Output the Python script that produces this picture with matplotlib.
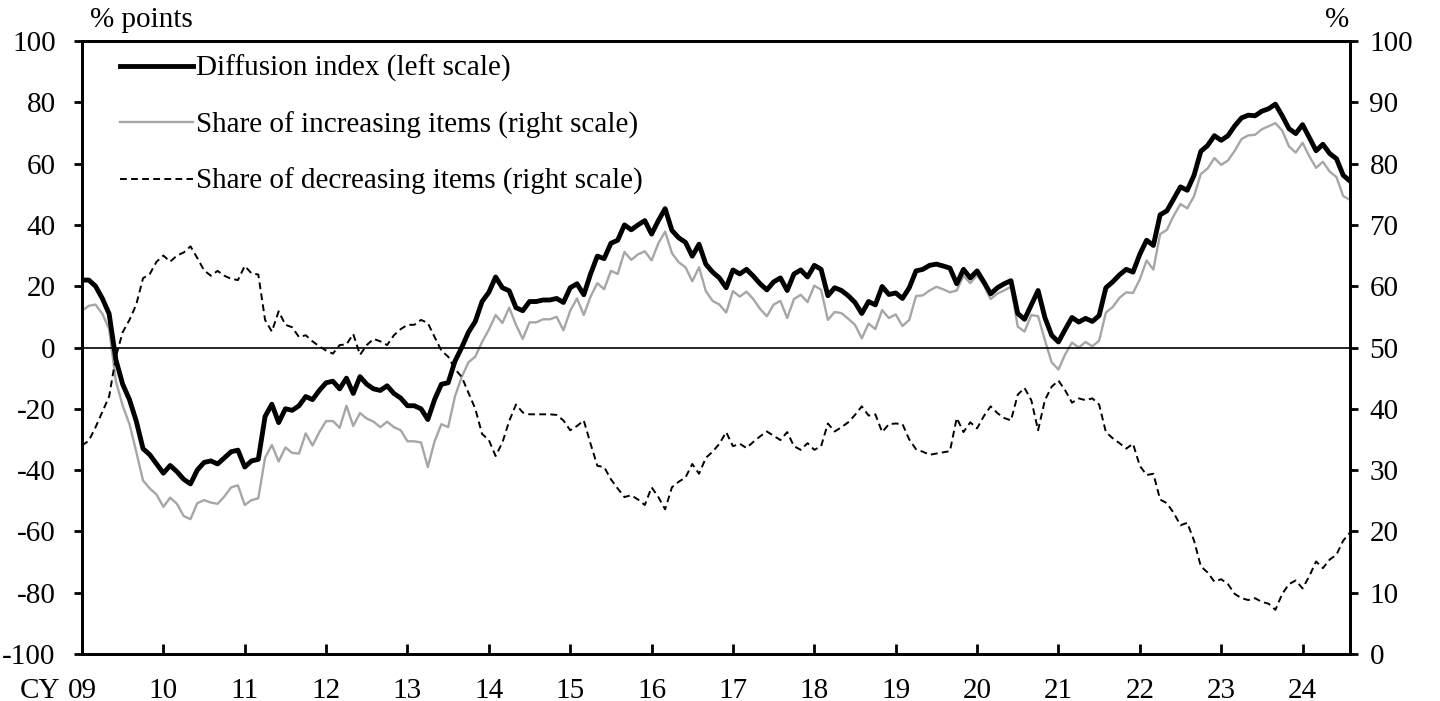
import matplotlib
matplotlib.use('Agg')
import matplotlib.pyplot as plt
from matplotlib.transforms import offset_copy

plt.rcParams['font.family'] = ['Liberation Serif', 'DejaVu Serif']
plt.rcParams['axes.unicode_minus'] = False

year_labels = ['09', '10', '11', '12', '13', '14', '15', '16',
               '17', '18', '19', '20', '21', '22', '23', '24']

# Monthly data, Jan 2009 - Aug 2024
diffusion = [
    22, 22, 20, 16, 11, -4, -12, -17, -24, -33, -35, -38,
    -41, -38.5, -40.5, -43, -44.5, -40, -37.5, -37, -38, -36, -34, -33.5,
    -39, -37, -36.5, -22.5, -18.5, -24.5, -20, -20.5, -19, -16, -17, -14,
    -11.5, -11, -13.5, -10, -15, -9.5, -12, -13.5, -14, -12.5, -15, -16.5,
    -19, -19, -20, -23.5, -17, -12, -11.5, -4.5, 0, 5, 8.5, 15,
    18, 23, 19.5, 18.5, 13, 12, 15, 15, 15.5, 15.5, 16, 14.7,
    19.5, 20.8, 17.2, 24, 29.8, 29, 34, 35, 40, 38.4, 40, 41.4,
    37, 41.4, 45.3, 38.2, 35.8, 34.3, 29.8, 33.7, 27.2, 24.6, 22.7, 19.5,
    25.3, 24, 25.5, 23.3, 20.8, 18.8, 21.4, 22.7, 18.6, 24, 25.3, 23,
    26.8, 25.5, 16.9, 19.5, 18.6, 16.9, 14.7, 11.1, 15, 13.9, 19.9, 17.3,
    17.8, 16, 19.5, 25, 25.5, 26.8, 27.2, 26.6, 25.9, 20.8, 25.5, 22.7,
    25, 21.4, 17.5, 19.5, 20.8, 21.8, 11.1, 9.2, 13.9, 18.6, 9.8, 4,
    1.8, 5.9, 9.8, 8.3, 9.5, 8.5, 10.4, 19.5, 21.4, 23.7, 25.5, 24.6,
    30.4, 35, 33.3, 43.3, 44.6, 48.5, 52.4, 51.3, 56.2, 64, 65.9, 69.1,
    67.6, 69.1, 72.3, 74.9, 75.8, 75.6, 77.1, 77.9, 79.4, 75.6, 71.4, 69.8,
    72.7, 68.5, 64.2, 66.3, 63.3, 61.6, 56.2, 54.3,
]

decreasing = [
    34, 34.8, 37, 39.5, 42, 48.5, 52.5, 54.5, 57, 61.3, 62, 64,
    65, 64, 65, 65.5, 66.5, 64.6, 62.6, 61.7, 62.5, 61.7, 61.2, 61,
    63.3, 62.1, 61.9, 54.5, 52.6, 55.9, 53.7, 53.3, 51.7, 52, 51, 50.2,
    49.5, 49, 50.4, 50.5, 52.2, 48.8, 50.4, 51.4, 51, 50.4, 52, 53,
    53.7, 53.7, 54.5, 54, 51.7, 49.5, 48.5, 46.5, 45.2, 42.6, 40, 35.9,
    34.9, 32.3, 34.5, 38, 40.7, 39.4, 39.1, 39.1, 39.1, 39.1, 39, 38.1,
    36.5, 37.2, 38.1, 34.3, 30.7, 30.5, 28.5, 27, 25.6, 25.9, 25.2, 24.3,
    27.2, 25.6, 23.6, 27.2, 28.1, 28.8, 31, 29.4, 32, 33, 34.3, 36.2,
    33.9, 34.3, 33.6, 34.6, 35.5, 36.3, 35.6, 34.9, 36.2, 33.9, 33.3, 34.4,
    33.3, 33.9, 37.6, 36.3, 37, 37.8, 39, 40.4, 38.9, 39.1, 36.2, 37.5,
    37.6, 37.5, 35, 33.4, 33, 32.5, 32.7, 32.9, 33.1, 38.5, 36.2, 37.8,
    36.8, 38.8, 40.4, 39.3, 38.5, 38.1, 42.3, 43.4, 41.4, 36.5, 41.4, 43.6,
    44.6, 43, 41, 41.7, 41.4, 41.7, 40.7, 36.2, 35.2, 34.4, 33.5, 34.3,
    30.7, 29.2, 29.4, 25.2, 24.6, 23, 21, 21.4, 18.5, 14.3, 13.3, 11.8,
    12.2, 11.4, 9.8, 9.1, 8.8, 9.1, 8.5, 8.2, 7.2, 9.8, 11.4, 12,
    10.7, 12.7, 15.1, 14, 15.4, 16.2, 18.5, 19.8,
]

increasing = [
    56, 56.8, 57, 55.5, 53, 44.5, 40.5, 37.5, 33, 28.3, 27, 26,
    24, 25.5, 24.5, 22.5, 22, 24.6, 25.1, 24.7, 24.5, 25.7, 27.2, 27.5,
    24.3, 25.1, 25.4, 32, 34.1, 31.4, 33.7, 32.8, 32.7, 36, 34, 36.2,
    38, 38, 36.9, 40.5, 37.2, 39.3, 38.4, 37.9, 37, 37.9, 37, 36.5,
    34.7, 34.7, 34.5, 30.5, 34.7, 37.5, 37, 42, 45.2, 47.6, 48.5, 50.9,
    52.9, 55.3, 54, 56.5, 53.7, 51.4, 54.1, 54.1, 54.6, 54.6, 55, 52.8,
    56, 58, 55.3, 58.3, 60.5, 59.5, 62.5, 62, 65.6, 64.3, 65.2, 65.7,
    64.2, 67, 68.9, 65.4, 63.9, 63.1, 60.8, 63.1, 59.2, 57.6, 57, 55.7,
    59.2, 58.3, 59.1, 57.9, 56.3, 55.1, 57, 57.6, 54.8, 57.9, 58.6, 57.4,
    60.1, 59.4, 54.5, 55.8, 55.6, 54.7, 53.7, 51.5, 53.9, 53, 56.1, 54.8,
    55.4, 53.5, 54.5, 58.4, 58.5, 59.3, 59.9, 59.5, 59, 59.3, 61.7, 60.5,
    61.8, 60.2, 57.9, 58.8, 59.3, 59.9, 53.4, 52.6, 55.3, 55.1, 51.2, 47.6,
    46.4, 48.9, 50.8, 50, 50.9, 50.2, 51.1, 55.7, 56.6, 58.1, 59, 58.9,
    61.1, 64.2, 62.7, 68.5, 69.2, 71.5, 73.4, 72.7, 74.7, 78.3, 79.2, 80.9,
    79.8, 80.5, 82.1, 84, 84.6, 84.7, 85.6, 86.1, 86.6, 85.4, 82.8, 81.8,
    83.4, 81.2, 79.3, 80.3, 78.7, 77.8, 74.7, 74.1,
]

legend_labels = ['Diffusion index (left scale)',
                 'Share of increasing items (right scale)',
                 'Share of decreasing items (right scale)']

FS = 21
XPAD = 17
W, H = 1440, 701
fig = plt.figure(figsize=(W / 100, H / 100), dpi=100)
L, R, T, B = 82, 1350, 41, 654
ax = fig.add_axes([L / W, 1 - B / H, (R - L) / W, (B - T) / H])
ax2 = ax.twinx()

months = list(range(len(diffusion)))

gray_line, = ax2.plot(months, increasing, color='#A6A6A6', lw=1.7, zorder=2)
dash_line, = ax2.plot(months, decreasing, color='black', lw=1.4,
                      ls=(0, (3.5, 2.2)), zorder=3)
ax.axhline(0, color='black', lw=1.2, zorder=1)
di_line, = ax.plot(months, diffusion, color='black', lw=3.5, zorder=4,
                   solid_joinstyle='round')

ax.set_zorder(ax2.get_zorder() + 1)
ax.patch.set_visible(False)

n = len(diffusion)
ax.set_xlim(0, n - 1)
ax.set_ylim(-100, 100)
ax2.set_ylim(0, 100)
ax.set_yticks(range(-100, 101, 20))
ax2.set_yticks(range(0, 101, 10))
ax.set_xticks([12 * k for k in range(len(year_labels))])
ax.set_xticklabels(year_labels)

for a in (ax, ax2):
    for s in a.spines.values():
        s.set_linewidth(2)
        s.set_color('black')

ax.tick_params(axis='y', direction='out', length=6, width=2,
               labelsize=FS, pad=13)
ax.tick_params(axis='x', direction='in', length=7, width=2,
               labelsize=FS, pad=XPAD)
ax2.tick_params(axis='y', direction='out', length=6, width=2,
                labelsize=FS, pad=8)

trans = offset_copy(ax.get_xaxis_transform(), fig=fig, x=-16, y=-XPAD,
                    units='points')
ax.text(0, 0, 'CY', transform=trans, ha='right', va='top', fontsize=FS)

fig.text(90 / W, 1 - 20 / H, '% points', ha='left', va='center', fontsize=FS)
fig.text(1349 / W, 1 - 20 / H, '%', ha='right', va='center', fontsize=FS)

ax.legend([di_line, gray_line, dash_line], legend_labels,
          loc='upper left', bbox_to_anchor=(0.030, 0.977),
          frameon=False, fontsize=FS, handlelength=2.5,
          handletextpad=0.1, labelspacing=1.0, borderaxespad=0,
          borderpad=0)

fig.savefig('out.png', dpi=100)
